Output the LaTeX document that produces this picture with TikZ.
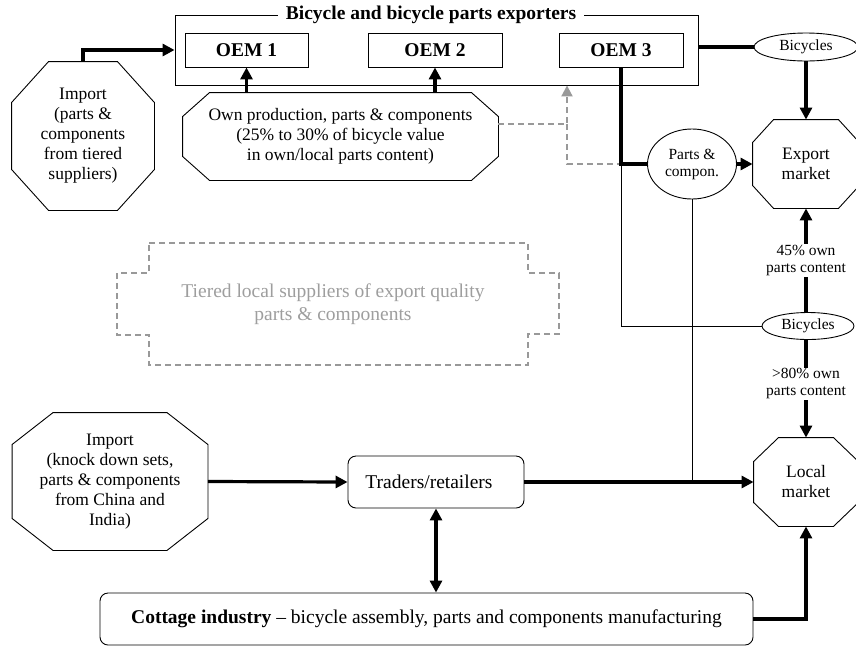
\documentclass[tikz,border=0pt]{standalone}
\usepackage{fontspec}
\setmainfont{Liberation Serif}
\usetikzlibrary{shapes.geometric,arrows.meta}

\newcommand{\bigtxt}{\fontsize{19.5}{22}\selectfont}
\newcommand{\smltxt}{\fontsize{15.5}{17}\selectfont}
% octagon round a named box: name, cut in x, cut in y
\newcommand{\octagon}[3]{%
  \draw ([xshift=#2pt]#1.north west) -- ([xshift=-#2pt]#1.north east) -- ([yshift=-#3pt]#1.north east)
    -- ([yshift=#3pt]#1.south east) -- ([xshift=-#2pt]#1.south east) -- ([xshift=#2pt]#1.south west)
    -- ([yshift=#3pt]#1.south west) -- ([yshift=-#3pt]#1.north west) -- cycle;}

\begin{document}
\begin{tikzpicture}[x=1pt,y=-1pt,line width=0.9pt,
    font=\fontsize{17.5}{20}\selectfont,
    octa/.style={align=center,inner sep=0pt},
    oembox/.style={draw,minimum height=34,inner sep=0pt,font=\bigtxt\bfseries},
    oval/.style={draw,ellipse,inner sep=0pt,align=center,font=\smltxt},
    rbox/.style={draw,rounded corners=8,inner sep=0pt},
    thick line/.style={line width=3.2pt},
    thick arrow/.style={line width=3.2pt,-{Triangle[length=12pt,width=12pt]}},
    grey dash/.style={draw=black!40,line width=2pt,dash pattern=on 6pt off 4pt},
    lbl/.style={fill=white,align=center,font=\smltxt,inner sep=1pt}]

\useasboundingbox (0,0) rectangle (856,646);

% exporters
\node[draw,minimum width=523,minimum height=70,inner sep=0pt] (exp) at (436.5,50) {};
\node[fill=white,font=\bigtxt\bfseries,inner xsep=8pt,inner ysep=0pt] (exptitle) at (431,15) {Bicycle and bicycle parts exporters};
\node[oembox,minimum width=123] (oem1) at (246.5,50) {OEM 1};
\node[oembox,minimum width=134] (oem2) at (435,50) {OEM 2};
\node[oembox,minimum width=124] (oem3) at (621,50) {OEM 3};

% imports and own production
\node[octa,minimum width=142,minimum height=148] (imp1) at (83,136)
    {Import\\(parts \&\\components\\from tiered\\suppliers)};
\octagon{imp1}{37}{41}
\node[octa,minimum width=315,minimum height=87] (own) at (340.5,136.5)
    {Own production, parts \& components\\(25\% to 30\% of bicycle value\\in own/local parts content)};
\octagon{own}{27}{24}
\node[octa,minimum width=195,minimum height=137] (imp2) at (110,481.5)
    {Import\\(knock down sets,\\parts \& components\\from China and\\India)};
\octagon{imp2}{41}{32}

% markets
\node[octa,minimum width=106,minimum height=88] (expm) at (806,164) {Export\\market};
\octagon{expm}{21}{23}
\node[octa,minimum width=104,minimum height=88] (locm) at (806,482) {Local\\market};
\octagon{locm}{25}{24}
\node[oval,minimum width=104,minimum height=28] (bic1) at (806,47) {Bicycles};
\node[oval,minimum width=92,minimum height=27] (bic2) at (808,326) {Bicycles};
\node[oval,minimum width=89,minimum height=70] (parts) at (692,164) {Parts \&\\compon.};

% local side
\node[rbox,minimum width=176,minimum height=52,font=\bigtxt] (trade) at (436,482) {Traders/retailers\kern14pt};
\node[rbox,minimum width=653,minimum height=52,font=\bigtxt] (cottage) at (426.5,619)
    {\textbf{Cottage industry} -- bicycle assembly, parts and components manufacturing};

% tiered suppliers
\draw[grey dash] (149,243) -- (528,243) -- (528,273) -- (559,273) -- (559,334) -- (528,334) -- (528,365)
    -- (149,365) -- (149,335) -- (117,335) -- (117,273) -- (149,273) -- cycle;
\node[text=black!38,align=center,font=\fontsize{19.5}{23}\selectfont] (tier) at (333,304)
    {Tiered local  suppliers of export quality\\parts \& components};

% connectors
\draw[thick arrow] (imp1.north) |- (exp.west);
\draw[thick arrow] (own.north -| oem1.south) -- (oem1.south);
\draw[thick arrow] (own.north -| oem2.south) -- (oem2.south);
\coordinate (j3) at (oem3.south |- parts.west);
\coordinate (dx) at (567,124);
\draw[grey dash,-{Triangle[length=11pt,width=11pt]}] (dx -| own.east) -- (dx) -- (dx |- exp.south);
\draw[grey dash] (dx) |- (j3);
\draw[thick line] (oem3.south) -- (j3) -- (parts.west);
\draw (j3) |- (bic2.west);
\draw[thick arrow] (parts.east) -- (expm.west);
\draw[thick line] (exp.east |- bic1.west) -- (bic1.west);
\draw[thick arrow] (bic1.south) -- (expm.north);
\draw[thick arrow] (bic2.north -| expm.south) -- node[lbl] {45\% own\\parts content} (expm.south);
\draw[thick arrow] (bic2.south -| locm.north) -- node[lbl,pos=0.45] {>80\% own\\parts content} (locm.north);
\draw[thick arrow] (imp2.east) -- (trade.west);
\draw[thick arrow] (trade.east) -- (locm.west);
\draw (parts.south) -- (parts.south |- trade.east);
\draw[thick line,{Triangle[length=12pt,width=12pt]}-{Triangle[length=12pt,width=12pt]}] (trade.south) -- (trade.south |- cottage.north);
\draw[thick arrow] (cottage.east) -| (locm.south);
\end{tikzpicture}
\end{document}
